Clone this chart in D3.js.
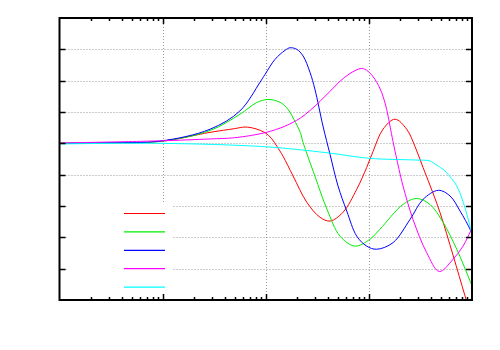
<!DOCTYPE html>
<html>
<head>
<meta charset="utf-8">
<script src="https://cdn.jsdelivr.net/npm/d3@7"></script>
<style>
  body { margin: 0; background: #fff; }
</style>
</head>
<body>
<div id="chart"></div>
<script>
// series: [frequency, level]
const redSeries = [[1,0],[3.1,0.02],[9.4,0.06],[28.8,0.35],[50,0.47],[63,0.52],[78.7,0.47],[98.5,0.34],[114,0.15],[128,-0.09],[147,-0.41],[184,-1.04],[250,-1.88],[336,-2.36],[420,-2.48],[561,-2.2],[762,-1.47],[952,-0.77],[1097,-0.26],[1371,0.45],[1792,0.77],[2328,0.45],[2800,-0.1],[3350,-0.77],[3916,-1.34],[4897,-2.21],[6548,-3.57],[8557,-4.87],[10000,-5.6]];
const greenSeries = [[1,0],[3.1,0.02],[9.4,0.06],[28.8,0.41],[56.3,0.93],[81.6,1.3],[105,1.4],[137.5,1.31],[164,1.09],[187,0.77],[216,0.35],[230,0.03],[300,-1.05],[393,-2.11],[525,-2.96],[733,-3.28],[1026,-3.06],[1282,-2.74],[2143,-1.95],[2911,-1.76],[3916,-1.95],[5236,-2.52],[7113,-3.38],[9570,-4.39],[10000,-4.55]];
const blueSeries = [[1,0],[3.1,0.02],[9.4,0.07],[28.8,0.45],[56,1.03],[88,1.95],[98.4,2.2],[123,2.68],[154,2.97],[172,3.05],[200,3.0],[230,2.79],[269,2.26],[300,1.72],[359,0.55],[420,-0.35],[502,-1.36],[610,-2.16],[762,-2.96],[952,-3.28],[1191,-3.38],[1714,-3.17],[2506,-2.43],[3350,-1.79],[4713,-1.5],[6124,-1.68],[7660,-2.16],[9570,-2.74],[10000,-2.9]];
const magentaSeries = [[1,0.01],[9.4,0.08],[28.8,0.14],[50,0.18],[98.5,0.34],[154,0.55],[215,0.8],[269,1.05],[336,1.34],[420,1.66],[525,1.98],[656,2.23],[851,2.39],[980,2.3],[1146,2.04],[1332,1.62],[1489,1.08],[1603,0.55],[1714,0.06],[1960,-0.83],[2143,-1.36],[2679,-2.43],[3638,-3.49],[4820,-4.09],[6548,-3.7],[8190,-3.28],[9900,-2.74],[10000,-2.72]];
const cyanSeries = [[1,-0.02],[9.4,0],[100,-0.11],[390,-0.3],[1026,-0.48],[2679,-0.53],[3916,-0.56],[4188,-0.62],[5236,-0.83],[5687,-0.94],[7113,-1.36],[8240,-1.89],[9570,-2.64],[10000,-2.9]];

const seriesList = [redSeries, greenSeries, blueSeries, magentaSeries, cyanSeries];
const seriesColors = ["#ff0000", "#00ee00", "#0000ff", "#ff00ff", "#00ffff"];
const yTicks = [-5, -4, -3, -2, -1, 0, 1, 2, 3, 4];

const width = 500, height = 350;
const margin = { top: 18, right: 28, bottom: 50, left: 59.5 };

const x = d3.scaleLog().domain([1, 10000]).range([margin.left, width - margin.right]);
const y = d3.scaleLinear().domain([-5, 4]).range([height - margin.bottom, margin.top]);

const svg = d3.select("#chart").append("svg")
    .attr("width", width)
    .attr("height", height);

svg.append("defs").append("clipPath").attr("id", "plot-clip")
    .append("rect")
    .attr("x", margin.left).attr("y", margin.top)
    .attr("width", x.range()[1] - margin.left)
    .attr("height", y.range()[0] - margin.top);

const majorX = [10, 100, 1000];
const minorX = [];
for (let dec = 1; dec < 10000; dec *= 10) {
    for (let k = 2; k <= 9; k++) minorX.push(dec * k);
}

// grid
const grid = svg.append("g").attr("stroke", "#999").attr("stroke-dasharray", "1,2").attr("stroke-width", 1);
grid.selectAll(".gx").data(majorX).enter().append("line")
    .attr("x1", d => Math.round(x(d)) + 0.5).attr("x2", d => Math.round(x(d)) + 0.5)
    .attr("y1", y.range()[1]).attr("y2", y.range()[0]);
grid.selectAll(".gy").data(yTicks.slice(1, -1)).enter().append("line")
    .attr("x1", x.range()[0]).attr("x2", x.range()[1])
    .attr("y1", d => Math.round(y(d)) + 0.5).attr("y2", d => Math.round(y(d)) + 0.5);

// legend box hides the grid behind it
svg.append("rect")
    .attr("x", 68).attr("y", 204).attr("width", 104).attr("height", 93)
    .attr("fill", "#fff");

// curves
const line = d3.line()
    .x(d => x(d[0]))
    .y(d => y(d[1]))
    .curve(d3.curveCatmullRom.alpha(0.5));

svg.append("g").attr("clip-path", "url(#plot-clip)")
    .selectAll("path")
    .data(seriesList)
    .enter().append("path")
    .attr("d", line)
    .attr("fill", "none")
    .attr("stroke", (d, i) => seriesColors[i])
    .attr("stroke-width", 1);

// legend samples
svg.append("g").selectAll("line")
    .data(seriesColors)
    .enter().append("line")
    .attr("x1", 124).attr("x2", 165)
    .attr("y1", (d, i) => 213.5 + i * 18.4)
    .attr("y2", (d, i) => 213.5 + i * 18.4)
    .attr("stroke", d => d)
    .attr("stroke-width", 1.2);

// ticks
const ticks = svg.append("g").attr("stroke", "#000").attr("stroke-width", 1);
const [x0, x1] = x.range();
const [yb, yt] = y.range();
ticks.selectAll(".ty").data(yTicks.slice(1, -1)).enter().append("path")
    .attr("d", d => {
        const py = Math.round(y(d)) + 0.5;
        return `M${x0},${py}h6M${x1},${py}h-6`;
    }).attr("stroke-width", 1.5);
ticks.selectAll(".tx").data(majorX).enter().append("path")
    .attr("d", d => {
        const px = Math.round(x(d)) + 0.5;
        return `M${px},${yb}v-6M${px},${yt}v6`;
    }).attr("stroke-width", 1.5);
ticks.selectAll(".tm").data(minorX).enter().append("path")
    .attr("d", d => {
        const px = Math.round(x(d)) + 0.5;
        return `M${px},${yb}v-3M${px},${yt}v3`;
    }).attr("stroke-width", 1.5);

// frame
svg.append("rect")
    .attr("x", x0).attr("y", yt)
    .attr("width", x1 - x0).attr("height", yb - yt)
    .attr("fill", "none")
    .attr("stroke", "#000")
    .attr("stroke-width", 2);
</script>
</body>
</html>
